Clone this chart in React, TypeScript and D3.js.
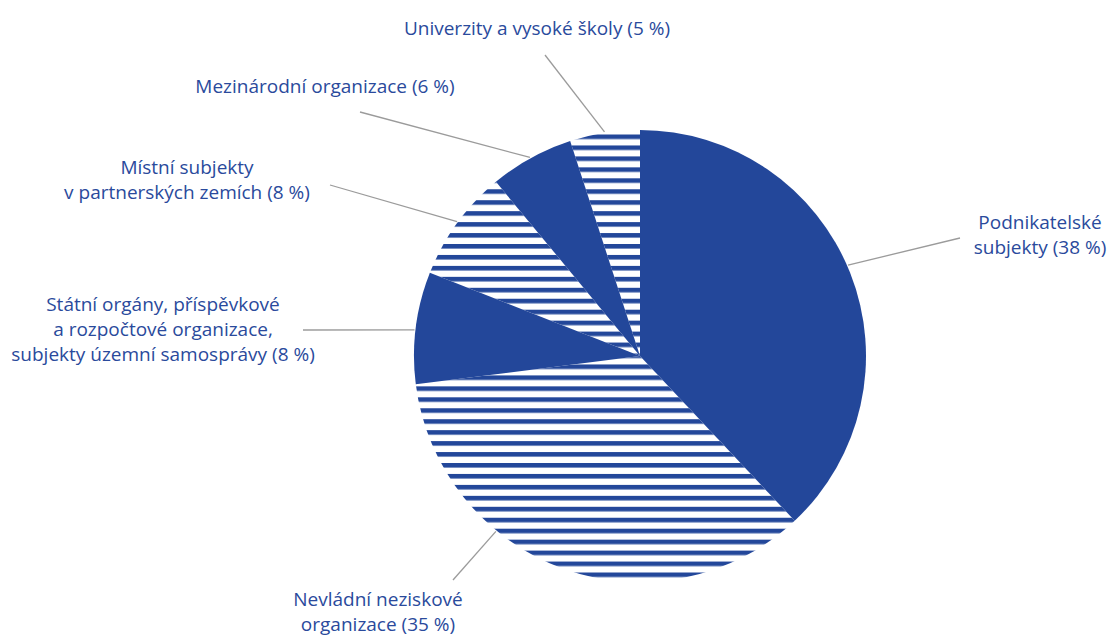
import React from "react";
import * as d3 from "d3";

const categories = [
  "Podnikatelské subjekty",
  "Nevládní neziskové organizace",
  "Státní orgány, příspěvkové a rozpočtové organizace, subjekty územní samosprávy",
  "Místní subjekty v partnerských zemích",
  "Mezinárodní organizace",
  "Univerzity a vysoké školy",
];
const values = [38, 35, 8, 8, 6, 5];
const striped = [false, true, false, true, false, true];
const labelLines = [
  ["Podnikatelské", "subjekty (38 %)"],
  ["Nevládní neziskové", "organizace (35 %)"],
  ["Státní orgány, příspěvkové", "a rozpočtové organizace,", "subjekty územní samosprávy (8 %)"],
  ["Místní subjekty", "v partnerských zemích (8 %)"],
  ["Mezinárodní organizace (6 %)"],
  ["Univerzity a vysoké školy (5 %)"],
];

// layout (not data)
const W = 1113, H = 637;
const CX = 640, CY = 356, R = 226;
const BLUE = "#23479a";
const TEXT = "#2a4a9c";
const GRAY = "#9b9b9b";
const labelLayout = [
  { x: 1040, y: 229, anchorDeg: 66.4, lx: 960, ly: 238 },
  { x: 378, y: 606, anchorDeg: 219.4, lx: 453, ly: 580 },
  { x: 163, y: 311, anchorDeg: 276.6, lx: 303, ly: 330 },
  { x: 187, y: 174, anchorDeg: 306.3, lx: 330, ly: 185 },
  { x: 325, y: 93, anchorDeg: 331, lx: 360, ly: 112 },
  { x: 537, y: 35, anchorDeg: 351, lx: 545, ly: 55 },
];

export default function App() {
  const pie = d3.pie<number>().sort(null).value((d) => d);
  const arcs = pie(values);
  const arc = d3.arc<d3.PieArcDatum<number>>().innerRadius(0).outerRadius(R);
  const period = 10.95;
  return (
    <svg width={W} height={H} style={{ position: "absolute", left: 0, top: 0 }}
      fontFamily="'Open Sans', 'Noto Sans', sans-serif">
      <defs>
        <pattern id="stripes" patternUnits="userSpaceOnUse" x={0} y={545 - 50 * period}
          width={W} height={period}>
          <rect x={0} y={0} width={W} height={4.6} fill={BLUE} />
        </pattern>
      </defs>
      {arcs.map((a, i) => (
        <path key={categories[i]} d={arc(a) || ""} fill={striped[i] ? "url(#stripes)" : BLUE}
          transform={`translate(${CX},${CY})`} />
      ))}
      {labelLayout.map((l, i) => {
        const ang = (l.anchorDeg * Math.PI) / 180;
        const ax = CX + (R + 1) * Math.sin(ang);
        const ay = CY - (R + 1) * Math.cos(ang);
        return (
          <g key={"lab" + i}>
            <line x1={l.lx} y1={l.ly} x2={ax} y2={ay} stroke={GRAY} strokeWidth={1.3} />
            <text textAnchor="middle" fill={TEXT} fontSize={19}>
              {labelLines[i].map((t, j) => (
                <tspan key={j} x={l.x} y={l.y + j * 25}>{t}</tspan>
              ))}
            </text>
          </g>
        );
      })}
    </svg>
  );
}
